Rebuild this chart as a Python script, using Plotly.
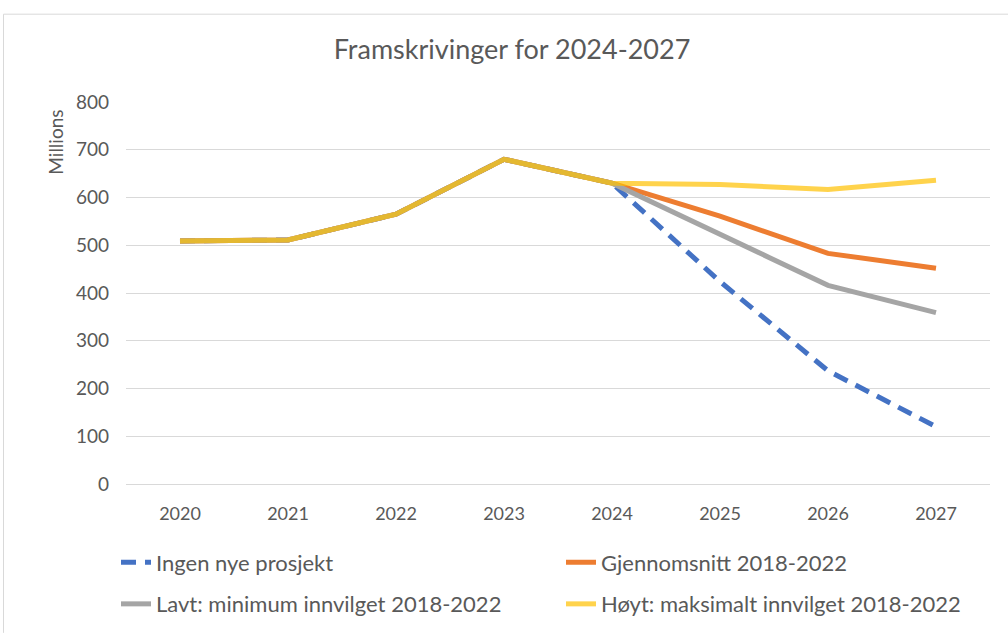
import plotly.graph_objects as go

years = ["2020", "2021", "2022", "2023", "2024", "2025", "2026", "2027"]
ingen_nye = [509, 511, 565, 680, 630, 424, 237, 120]
gjennomsnitt = [509, 511, 565, 680, 630, 561, 483, 452]
lavt_min = [509, 511, 565, 680, 630, 524, 416, 359]
hoyt_maks = [509, 511, 565, 680, 630, 627, 617, 636]

FONT = "Lato"
TXT = "#595959"

fig = go.Figure()
fig.add_trace(go.Scatter(x=years, y=ingen_nye, mode="lines", name="Ingen nye prosjekt",
                         line=dict(color="#4472C4", width=5, dash="15px,9px"), legend="legend"))
fig.add_trace(go.Scatter(x=years, y=gjennomsnitt, mode="lines", name="Gjennomsnitt 2018-2022",
                         line=dict(color="#ED7D31", width=5), legend="legend"))
fig.add_trace(go.Scatter(x=years, y=lavt_min, mode="lines", name="Lavt: minimum innvilget 2018-2022",
                         line=dict(color="#A5A5A5", width=5), legend="legend2"))
fig.add_trace(go.Scatter(x=years, y=hoyt_maks, mode="lines", name="Høyt: maksimalt innvilget 2018-2022",
                         line=dict(color="rgba(255,192,0,0.7)", width=5), legend="legend2"))

L, R, T, B = 126, 18, 102, 150
W, H = 1008, 637
pw, ph = W - L - R, H - T - B

def px(x):
    return (x - L) / pw

def py(y):
    return (H - B - y) / ph

legend_common = dict(orientation="h", xanchor="left", yanchor="middle",
                     font=dict(family=FONT, size=22, color=TXT),
                     entrywidth=400, entrywidthmode="pixels",
                     bgcolor="rgba(0,0,0,0)", traceorder="normal")

border = dict(color="#D9D9D9", width=1)

fig.update_layout(
    width=W, height=H,
    margin=dict(l=L, r=R, t=T, b=B),
    paper_bgcolor="white", plot_bgcolor="white",
    title=dict(text="Framskrivinger for 2024-2027", x=0.508, xref="container", xanchor="center",
               y=1 - 50 / H, yref="container", yanchor="middle",
               font=dict(family=FONT, size=27, color=TXT)),
    xaxis=dict(type="category", showgrid=False, showline=True, linecolor="#D9D9D9", linewidth=1,
               ticks="", tickfont=dict(family=FONT, size=18, color=TXT),
               ticklabelstandoff=13, range=[-0.5, 7.5]),
    yaxis=dict(range=[0, 800], dtick=100, showgrid=True, gridcolor="#D9D9D9", gridwidth=1,
               zeroline=False, showline=False, ticks="",
               tickfont=dict(family=FONT, size=19, color=TXT), ticklabelstandoff=16),
    legend=dict(x=px(116), y=py(566), **legend_common),
    legend2=dict(x=px(116), y=py(608), **legend_common),
    showlegend=True,
    annotations=[dict(text="Millions", textangle=-90, x=px(56), y=py(143), xref="paper", yref="paper",
                      xanchor="center", yanchor="middle", showarrow=False,
                      font=dict(family=FONT, size=19, color=TXT))],
    shapes=[
        dict(type="line", xref="paper", yref="paper", x0=px(3.5), x1=px(1008), y0=py(13.5), y1=py(13.5),
             line=border, layer="below"),
        dict(type="line", xref="paper", yref="paper", x0=px(3.5), x1=px(3.5), y0=py(13.5), y1=py(637),
             line=border, layer="below"),
    ],
)

fig.write_html("out.html", post_script="document.body.style.margin='0';",
               config={"displayModeBar": False})
